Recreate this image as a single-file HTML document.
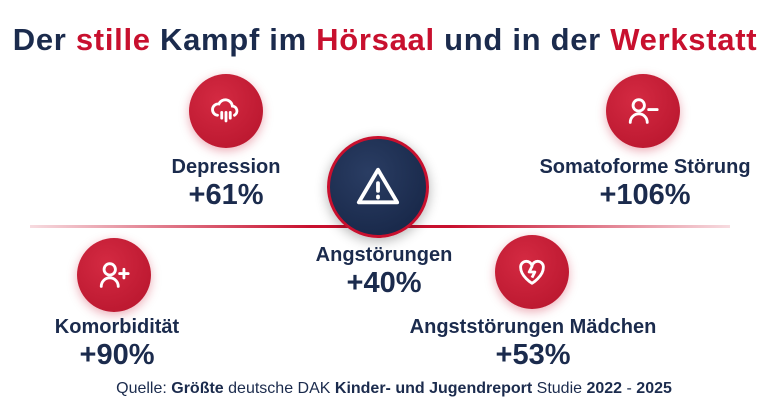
<!DOCTYPE html>
<html><head><meta charset="utf-8"><style>
body{margin:0;width:768px;height:407px;background:#fff;overflow:hidden;font-family:"Liberation Sans",sans-serif;position:relative;color:#1b2b4d}
.t{position:absolute;white-space:nowrap;transform:translateX(-50%);font-weight:bold;text-align:center}
.c{position:absolute;border-radius:50%;background:radial-gradient(circle at 40% 35%,#d42a42,#b5132b);box-shadow:0 3px 10px rgba(200,20,50,.35);display:flex;align-items:center;justify-content:center}
.red{color:#c8102e}
</style></head><body>
<div class="t" style="left:385px;top:22px;font-size:31px;letter-spacing:0.7px">Der <span class="red">stille</span> Kampf im <span class="red">Hörsaal</span> und in der <span class="red">Werkstatt</span></div>
<div style="position:absolute;left:30px;top:225px;width:700px;height:3px;background:linear-gradient(90deg,rgba(200,16,46,0.15),#c8102e 40%,#c8102e 60%,rgba(200,16,46,0.15))"></div>

<div class="c" style="left:189px;top:74px;width:74px;height:74px"><svg width="34" height="34" viewBox="0 0 24 24" fill="none" stroke="#fff" stroke-width="2" stroke-linecap="round"><path d="M6 15a4 4 0 0 1 1-8 5 5 0 0 1 9.5 1.5A3.5 3.5 0 0 1 18 15"/><path d="M9 13v4M12 13v6M15 13v4"/></svg></div>
<div class="t" style="left:226px;top:156px;font-size:20px">Depression</div>
<div class="t" style="left:226px;top:179px;font-size:29px">+61%</div>

<div class="c" style="left:606px;top:74px;width:74px;height:74px"><svg width="34" height="34" viewBox="0 0 24 24" fill="none" stroke="#fff" stroke-width="2" stroke-linecap="round"><circle cx="9" cy="8" r="4"/><path d="M3 20a6 6 0 0 1 12 0M16 11h6"/></svg></div>
<div class="t" style="left:645px;top:156px;font-size:20px">Somatoforme Störung</div>
<div class="t" style="left:645px;top:179px;font-size:29px">+106%</div>

<div class="c" style="left:327px;top:136px;width:96px;height:96px;background:radial-gradient(circle at 40% 35%,#2a3d63,#142343);border:3px solid #c8102e;box-shadow:0 3px 12px rgba(0,0,0,.3)"><svg width="46" height="46" viewBox="0 0 24 24" fill="none" stroke="#fff" stroke-width="2" stroke-linejoin="round" stroke-linecap="round"><path d="M12 3L2 20h20z"/><path d="M12 10v4M12 17v.5"/></svg></div>
<div class="t" style="left:384px;top:244px;font-size:20px">Angstörungen</div>
<div class="t" style="left:384px;top:267px;font-size:29px">+40%</div>

<div class="c" style="left:77px;top:238px;width:74px;height:74px"><svg width="34" height="34" viewBox="0 0 24 24" fill="none" stroke="#fff" stroke-width="2" stroke-linecap="round"><circle cx="9" cy="8" r="4"/><path d="M3 20a6 6 0 0 1 12 0M19 8v6M16 11h6"/></svg></div>
<div class="t" style="left:117px;top:316px;font-size:20px">Komorbidität</div>
<div class="t" style="left:117px;top:339px;font-size:29px">+90%</div>

<div class="c" style="left:495px;top:235px;width:74px;height:74px"><svg width="34" height="34" viewBox="0 0 24 24" fill="none" stroke="#fff" stroke-width="2" stroke-linejoin="round"><path d="M12 20s-8-5-8-11a4 4 0 0 1 8-1 4 4 0 0 1 8 1c0 6-8 11-8 11z"/><path d="M12 8l-2 4h4l-2 4"/></svg></div>
<div class="t" style="left:533px;top:316px;font-size:20px">Angststörungen Mädchen</div>
<div class="t" style="left:533px;top:339px;font-size:29px">+53%</div>

<div class="t" style="left:394px;top:380px;font-size:16px;font-weight:normal">Quelle: <b>Größte</b> deutsche DAK <b>Kinder- und Jugendreport</b> Studie <b>2022</b> - <b>2025</b></div>
</body></html>
